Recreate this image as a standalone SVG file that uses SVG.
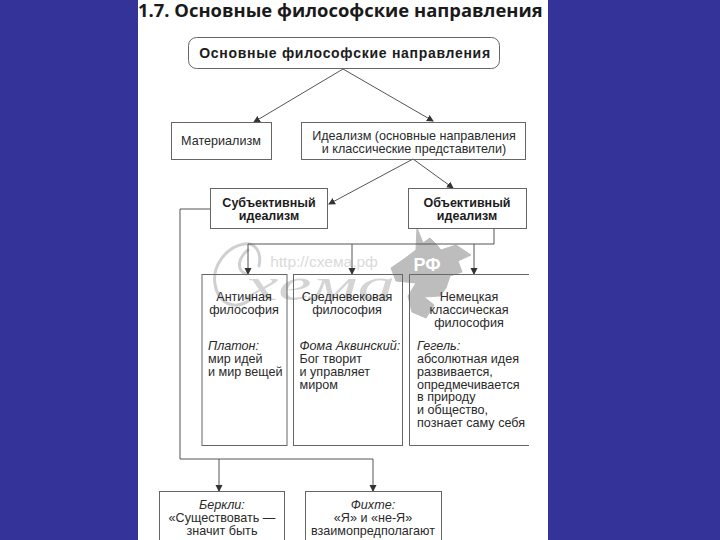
<svg xmlns="http://www.w3.org/2000/svg" width="720" height="540" viewBox="0 0 720 540">
<style>
text{font-family:"Liberation Sans",Arial,sans-serif;font-size:12.6px;fill:#2a2a2a;text-anchor:middle}
.l{text-anchor:start}
.b{font-weight:bold;font-size:12.5px;fill:#1c1c1c}
.i{font-style:italic}
.box{fill:none;stroke:#666;stroke-width:1}
.c{fill:none;stroke:#555;stroke-width:1}
.wm{fill:#bdbdbd;stroke:#bdbdbd;stroke-width:1;stroke-linejoin:round}
.ws{fill:none;stroke:#d0d0d0;stroke-width:3;stroke-linecap:round}
</style>
<defs><marker id="a" markerWidth="7" markerHeight="8" refX="6" refY="4" orient="auto" markerUnits="userSpaceOnUse"><path d="M0 0.5L7 4L0 7.5z" fill="#333"/></marker></defs>
<rect width="720" height="540" fill="#333399"/>
<rect x="138" y="0" width="410" height="540" fill="#fff"/>
<text class="l" x="138" y="17" font-weight="bold" style="font-family:'Open Sans','Liberation Sans',sans-serif;font-size:18.4px;fill:#1a1a1a">1.7. Основные философские направления</text>
<g id="watermark">
<path class="ws" d="M259 266C262 252 255 242 244 244C226 247 212 266 215 284C218 304 236 312 252 298M248 250C238 258 236 270 246 274"/>
<text x="324" y="267" style="font-size:15.5px;fill:#dadada">http://схема.рф</text>
<text x="320" y="300" class="i" textLength="150" lengthAdjust="spacingAndGlyphs" style="font-family:'Liberation Serif',serif;font-size:46px;fill:#d4d4d4">хема</text>
<path class="wm" d="M417 228L423 243L430 238L436 244L441 250L456 245L471 255L458 261L462 272L450 276L446 288L440 296L424 297L434 305L426 318L412 312L408 296L416 283L396 281L391 268L404 259L416 250z"/>
<text x="427" y="271" font-weight="bold" style="font-size:18px;fill:#fff">РФ</text>
</g>
<g id="connectors">
<path class="c" marker-end="url(#a)" d="M343 69L254 122"/>
<path class="c" marker-end="url(#a)" d="M343 69L433 121"/>
<path class="c" marker-end="url(#a)" d="M413 159L329 204"/>
<path class="c" marker-end="url(#a)" d="M413 159L453 188"/>
<path class="c" d="M494 228V244H248"/>
<path class="c" marker-end="url(#a)" d="M248 244V274"/>
<path class="c" marker-end="url(#a)" d="M352 244V274"/>
<path class="c" marker-end="url(#a)" d="M474 244V274"/>
<path class="c" d="M210 209H180V459H373"/>
<path class="c" marker-end="url(#a)" d="M219 459V491"/>
<path class="c" marker-end="url(#a)" d="M373 459V491"/>
</g>
<g id="n1"><rect class="box" x="188.500" y="37.500" width="311" height="31" rx="8"/><text x="345" y="58" font-weight="bold" style="font-size:14px;letter-spacing:.7px;fill:#1c1c1c">Основные философские направления</text></g>
<g id="n2"><rect class="box" x="171.500" y="122.500" width="100" height="37"/><text x="221" y="144.500">Материализм</text></g>
<g id="n3"><rect class="box" x="301.500" y="122.500" width="224" height="37"/><text x="414" y="139.500">Идеализм (основные направления</text><text x="414" y="152.500">и классические представители)</text></g>
<g id="n4"><rect class="box" x="210.500" y="188.500" width="117" height="40"/><text class="b" x="269" y="206.500">Субъективный</text><text class="b" x="269" y="219.500">идеализм</text></g>
<g id="n5"><rect class="box" x="408.500" y="188.500" width="118" height="40"/><text class="b" x="467" y="206.500">Объективный</text><text class="b" x="467" y="219.500">идеализм</text></g>
<g id="n6"><rect class="box" x="202" y="274.500" width="85" height="171"/><text x="244" y="301">Античная</text><text x="244" y="313.500">философия</text><text class="l i" x="208" y="350">Платон:</text><text class="l" x="208" y="363">мир идей</text><text class="l" x="208" y="375.500">и мир вещей</text></g>
<g id="n7"><rect class="box" x="293.500" y="274.500" width="109" height="171"/><text x="347" y="301">Средневековая</text><text x="347" y="313.500">философия</text><text class="l i" x="299.500" y="350">Фома Аквинский:</text><text class="l" x="299.500" y="363">Бог творит</text><text class="l" x="299.500" y="375.500">и управляет</text><text class="l" x="299.500" y="388.500">миром</text></g>
<g id="n8"><path class="box" d="M529 274.500H409.500V445.500H529"/><text x="469" y="301">Немецкая</text><text x="469" y="313.500">классическая</text><text x="469" y="326.500">философия</text><text class="l i" x="417" y="350">Гегель:</text><text class="l" x="417" y="363">абсолютная идея</text><text class="l" x="417" y="375.500">развивается,</text><text class="l" x="417" y="388.500">опредмечивается</text><text class="l" x="417" y="401">в природу</text><text class="l" x="417" y="414">и общество,</text><text class="l" x="417" y="427">познает саму себя</text></g>
<g id="n9"><rect class="box" x="159.500" y="491.500" width="125" height="60"/><text class="i" x="222" y="509">Беркли:</text><text x="222" y="522">«Существовать —</text><text x="222" y="535">значит быть</text></g>
<g id="n10"><rect class="box" x="305.500" y="491.500" width="136" height="60"/><text class="i" x="373" y="509">Фихте:</text><text x="373" y="522">«Я» и «не-Я»</text><text x="373" y="535">взаимопредполагают</text></g>
</svg>
